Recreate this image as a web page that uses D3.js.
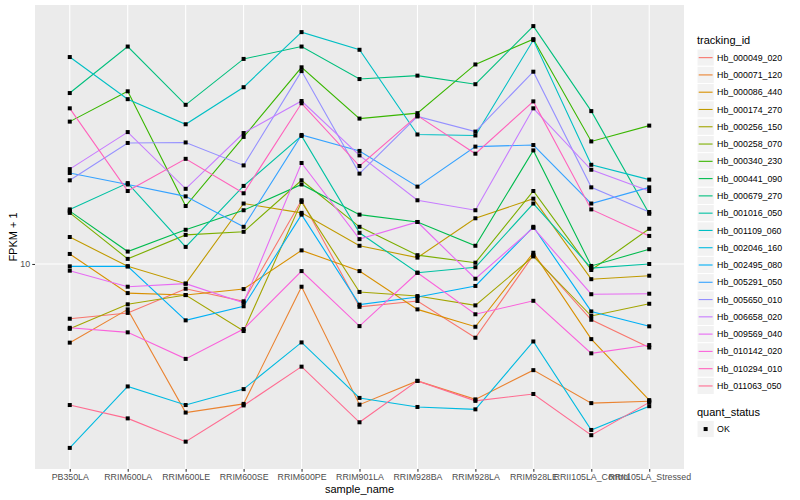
<!DOCTYPE html>
<html>
<head>
<meta charset="utf-8">
<script src="https://cdn.jsdelivr.net/npm/d3@7"></script>
<style>
  body { margin: 0; background: #fff; }
  text { font-family: "Liberation Sans", Arial, sans-serif; }
</style>
</head>
<body>
<svg id="chart" width="800" height="500"></svg>
<script>
// sample names along x
const samples = ["PB350LA", "RRIM600LA", "RRIM600LE", "RRIM600SE", "RRIM600PE", "RRIM901LA",
                 "RRIM928BA", "RRIM928LA", "RRIM928LE", "RRII105LA_Control", "RRII105LA_Stressed"];

// FPKM + 1 per gene, one value per sample
const hb_000049_020 = [6.57, 6.87, 8.27, 7.51, 16.3, 7.20, 7.53, 5.68, 10.7, 6.52, 5.27];
const hb_000071_120 = [5.47, 7.06, 3.20, 3.42, 8.40, 3.40, 4.08, 3.54, 4.43, 3.44, 3.49];
const hb_000086_440 = [10.8, 8.00, 7.88, 8.25, 11.1, 9.47, 7.06, 6.18, 10.9, 5.62, 3.52];
const hb_000174_270 = [12.3, 9.82, 8.60, 15.9, 14.8, 11.5, 10.5, 14.2, 16.5, 8.90, 9.14];
const hb_000256_150 = [6.08, 7.34, 7.88, 5.98, 16.1, 8.07, 7.82, 7.28, 10.6, 6.71, 7.37];
const hb_000258_070 = [14.8, 10.4, 12.5, 12.8, 19.0, 13.3, 10.7, 10.1, 17.5, 9.55, 13.1];
const hb_000340_230 = [29.8, 37.6, 15.6, 26.5, 45.2, 30.5, 31.8, 46.2, 56.1, 25.6, 28.9];
const hb_000441_090 = [15.0, 11.0, 13.0, 15.1, 18.4, 14.6, 13.8, 11.5, 23.9, 9.85, 11.2];
const hb_000679_270 = [37.1, 53.0, 33.9, 48.2, 53.0, 41.3, 42.4, 39.7, 62.0, 32.3, 14.7];
const hb_001016_050 = [15.2, 18.6, 11.4, 18.2, 26.7, 12.7, 9.35, 9.75, 15.9, 9.69, 10.0];
const hb_001109_060 = [48.9, 35.4, 29.2, 38.8, 59.2, 51.7, 27.0, 26.8, 55.7, 21.4, 19.1];
const hb_002046_160 = [2.44, 3.91, 3.39, 3.83, 5.48, 3.58, 3.34, 3.28, 5.52, 2.80, 3.36];
const hb_002495_080 = [9.82, 9.82, 6.49, 7.23, 14.6, 7.32, 7.76, 8.45, 13.3, 6.95, 6.20];
const hb_005291_050 = [20.1, 18.4, 16.8, 13.3, 26.9, 23.8, 18.1, 24.6, 24.9, 15.9, 18.0];
const hb_005650_010 = [19.0, 25.3, 25.4, 21.3, 43.9, 20.0, 31.0, 27.6, 43.7, 18.0, 14.9];
const hb_006658_020 = [20.7, 27.5, 17.8, 27.3, 34.9, 23.0, 16.3, 15.1, 33.0, 20.6, 17.5];
const hb_009569_040 = [9.50, 8.40, 8.60, 7.43, 21.7, 12.1, 13.8, 8.93, 13.2, 7.93, 7.96];
const hb_010142_020 = [6.13, 5.92, 4.83, 6.07, 9.47, 6.21, 9.35, 6.80, 7.54, 5.04, 5.37];
const hb_010294_010 = [33.0, 17.5, 22.4, 17.2, 34.3, 21.2, 31.2, 23.3, 34.8, 15.2, 12.4];
const hb_011063_050 = [3.39, 3.06, 2.56, 3.38, 4.55, 2.97, 4.08, 3.50, 3.69, 2.69, 3.46];

const trackingIds = ["Hb_000049_020", "Hb_000071_120", "Hb_000086_440", "Hb_000174_270", "Hb_000256_150",
                     "Hb_000258_070", "Hb_000340_230", "Hb_000441_090", "Hb_000679_270", "Hb_001016_050",
                     "Hb_001109_060", "Hb_002046_160", "Hb_002495_080", "Hb_005291_050", "Hb_005650_010",
                     "Hb_006658_020", "Hb_009569_040", "Hb_010142_020", "Hb_010294_010", "Hb_011063_050"];
const values = [hb_000049_020, hb_000071_120, hb_000086_440, hb_000174_270, hb_000256_150,
                hb_000258_070, hb_000340_230, hb_000441_090, hb_000679_270, hb_001016_050,
                hb_001109_060, hb_002046_160, hb_002495_080, hb_005291_050, hb_005650_010,
                hb_006658_020, hb_009569_040, hb_010142_020, hb_010294_010, hb_011063_050];
const yTicks = [10];
const statusLevels = ["OK"];

// ggplot default hue palette for 20 levels
const colors = ["#F8766D", "#EA8331", "#D89000", "#C09B00", "#A3A500", "#7CAE00", "#39B600", "#00BB4E",
                "#00BF7D", "#00C1A3", "#00BFC4", "#00BAE0", "#00B0F6", "#35A2FF", "#9590FF", "#C77CFF",
                "#E76BF3", "#FA62DB", "#FF62BC", "#FF6C91"];

const series = trackingIds.map((id, i) => ({ id: id, values: values[i], color: colors[i] }));

const svg = d3.select("#chart");
const LEFT = 35, RIGHT = 684, TOP = 5, BOTTOM = 469;

const x = d3.scalePoint().domain(samples).range([LEFT, RIGHT]).padding(0.6);

const [lo, hi] = d3.extent(values.flat()).map(Math.log10);
const pad = (hi - lo) * 0.05;
const y = d3.scaleLog().domain([10 ** (lo - pad), 10 ** (hi + pad)]).range([BOTTOM, TOP]);

// panel
svg.append("rect")
    .attr("x", LEFT).attr("y", TOP)
    .attr("width", RIGHT - LEFT).attr("height", BOTTOM - TOP)
    .attr("fill", "#EBEBEB");

svg.append("g").selectAll("line")
    .data(samples)
    .join("line")
    .attr("x1", d => x(d)).attr("x2", d => x(d))
    .attr("y1", TOP).attr("y2", BOTTOM)
    .attr("stroke", "#fff").attr("stroke-width", 1.07);

svg.append("g").selectAll("line")
    .data(yTicks)
    .join("line")
    .attr("x1", LEFT).attr("x2", RIGHT)
    .attr("y1", d => y(d)).attr("y2", d => y(d))
    .attr("stroke", "#fff").attr("stroke-width", 1.07);

// axes
const yAxis = d3.axisLeft(y).tickValues(yTicks).tickSize(2.75).tickPadding(2.2).tickFormat(d3.format("d"));
const xAxis = d3.axisBottom(x).tickSize(2.75).tickPadding(2.2);

const gy = svg.append("g").attr("transform", `translate(${LEFT},0)`).call(yAxis);
const gx = svg.append("g").attr("transform", `translate(0,${BOTTOM})`).call(xAxis);
[gx, gy].forEach(g => {
    g.select(".domain").remove();
    g.selectAll(".tick line").attr("stroke", "#333").attr("stroke-width", 1.07);
    g.selectAll(".tick text").attr("fill", "#4D4D4D").attr("font-size", 8.8)
        .style("font-family", '"Liberation Sans", Arial, sans-serif');
});

svg.append("text")
    .attr("x", (LEFT + RIGHT) / 2).attr("y", 493)
    .attr("text-anchor", "middle").attr("font-size", 11).attr("fill", "#000")
    .text("sample_name");

svg.append("text")
    .attr("transform", `translate(17,${(TOP + BOTTOM) / 2}) rotate(-90)`)
    .attr("text-anchor", "middle").attr("font-size", 11).attr("fill", "#000")
    .text("FPKM + 1");

// lines then points
const line = d3.line().x((d, i) => x(samples[i])).y(d => y(d));

svg.append("g").selectAll("path")
    .data(series)
    .join("path")
    .attr("d", d => line(d.values))
    .attr("fill", "none")
    .attr("stroke", d => d.color)
    .attr("stroke-width", 1.1);

svg.append("g").selectAll("g")
    .data(series)
    .join("g")
    .selectAll("rect")
    .data(d => d.values)
    .join("rect")
    .attr("x", (d, i) => x(samples[i]) - 2)
    .attr("y", d => y(d) - 2)
    .attr("width", 4).attr("height", 4)
    .attr("fill", "#000");

// legend
const KEY = 17.28, LX = 697;
const legend = svg.append("g");
legend.append("text").attr("x", LX).attr("y", 44).attr("font-size", 11).text("tracking_id");

const items = legend.selectAll("g.item")
    .data(series)
    .join("g")
    .attr("class", "item")
    .attr("transform", (d, i) => `translate(${LX},${49 + i * KEY})`);
items.append("rect")
    .attr("width", KEY).attr("height", KEY)
    .attr("fill", "#F2F2F2").attr("stroke", "#fff").attr("stroke-width", 1);
items.append("line")
    .attr("x1", 1.7).attr("x2", KEY - 1.7)
    .attr("y1", KEY / 2).attr("y2", KEY / 2)
    .attr("stroke", d => d.color).attr("stroke-width", 1.1);
items.append("text")
    .attr("x", KEY + 2.8).attr("y", KEY / 2 + 3.1)
    .attr("font-size", 8.8).attr("fill", "#000")
    .text(d => d.id);

legend.append("text").attr("x", LX).attr("y", 416).attr("font-size", 11).text("quant_status");
const st = legend.selectAll("g.status")
    .data(statusLevels)
    .join("g")
    .attr("class", "status")
    .attr("transform", (d, i) => `translate(${LX},${420.4 + i * KEY})`);
st.append("rect")
    .attr("width", KEY).attr("height", KEY)
    .attr("fill", "#F2F2F2").attr("stroke", "#fff").attr("stroke-width", 1);
st.append("rect")
    .attr("x", KEY / 2 - 2).attr("y", KEY / 2 - 2)
    .attr("width", 4).attr("height", 4).attr("fill", "#000");
st.append("text")
    .attr("x", KEY + 2.8).attr("y", KEY / 2 + 3.1)
    .attr("font-size", 8.8).attr("fill", "#000")
    .text(d => d);
</script>
</body>
</html>
